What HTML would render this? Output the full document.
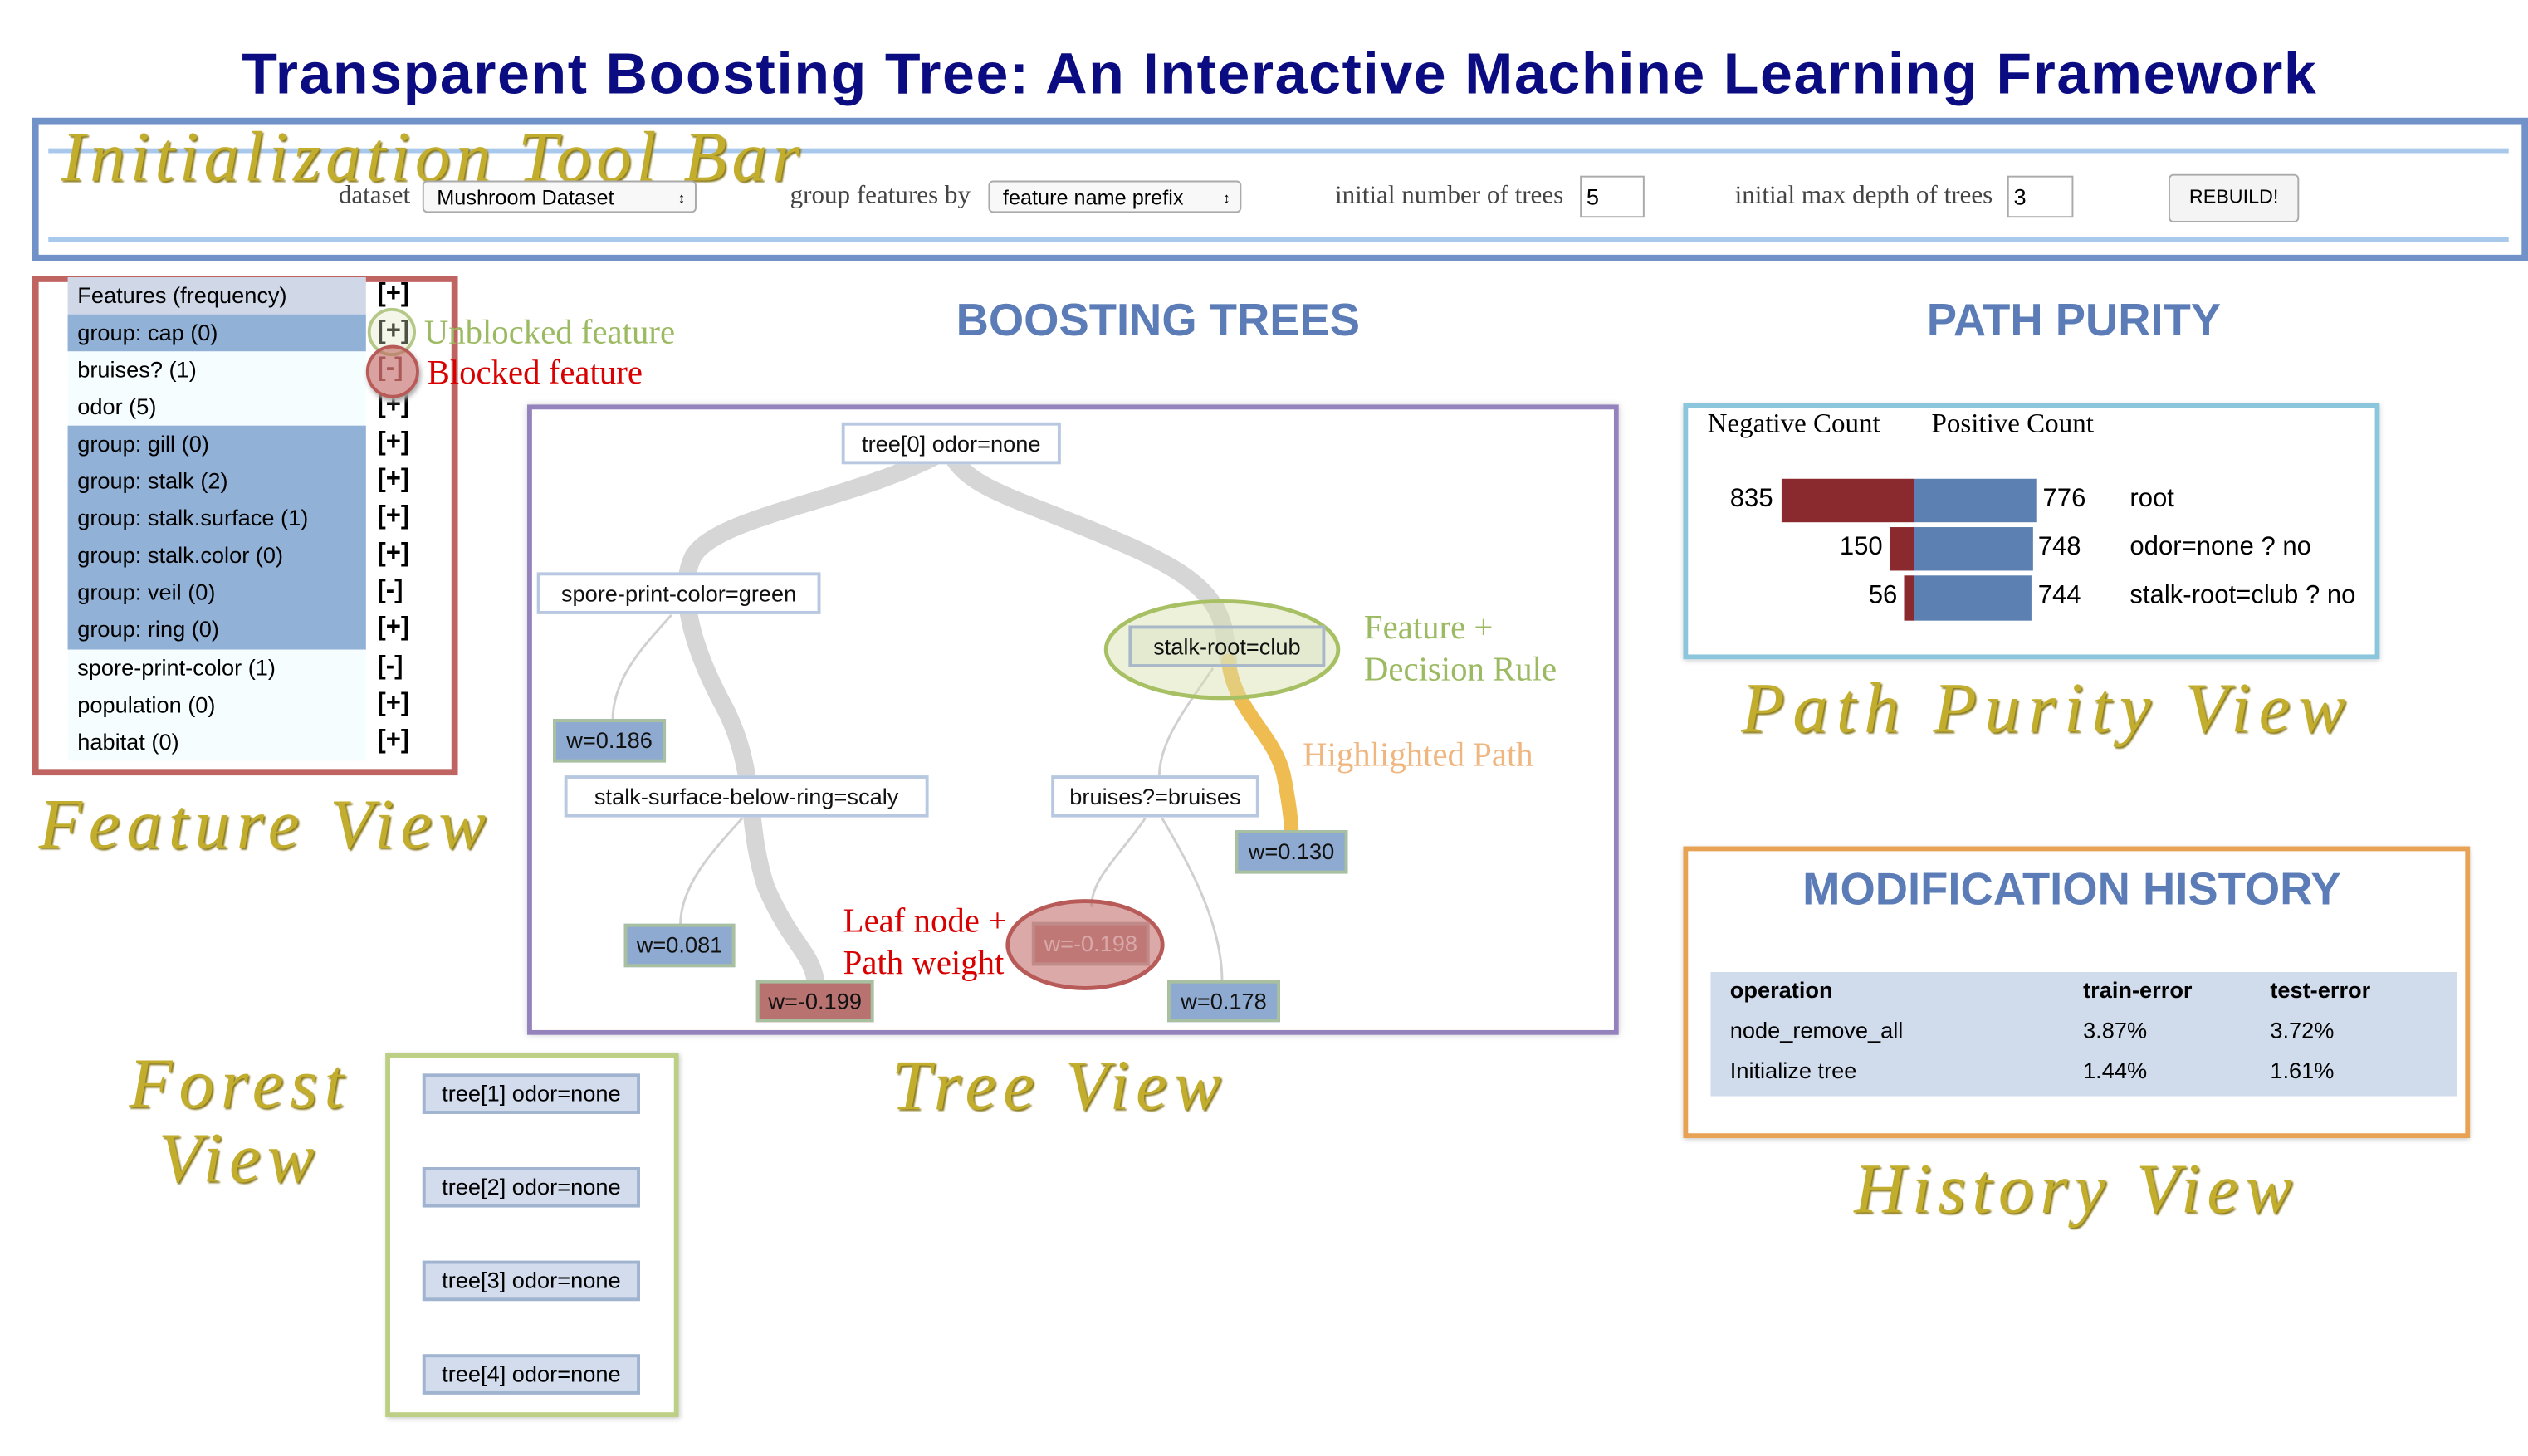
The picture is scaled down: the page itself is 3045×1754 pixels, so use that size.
<!DOCTYPE html>
<html><head><meta charset="utf-8">
<style>
html,body{margin:0;padding:0;background:#fff;overflow:hidden;}
#w{position:absolute;left:0;top:0;width:1568px;height:903px;transform:scale(1.942);transform-origin:0 0;font-family:"Liberation Sans",sans-serif;}
.a{position:absolute;white-space:nowrap;}
.scr{position:absolute;white-space:nowrap;font-family:"Liberation Serif",serif;font-style:italic;color:#c2ad2c;text-shadow:1px 1px 1px #8a7a20;letter-spacing:4px;}
.ser{font-family:"Liberation Serif",serif;}
.node{position:absolute;border:2px solid #b8c8e0;background:#fff;font-size:14px;text-align:center;box-sizing:border-box;line-height:22px;color:#111;}
.leaf{position:absolute;border:2px solid #a8c0a0;background:#8eaad0;font-size:14px;text-align:center;box-sizing:border-box;line-height:23px;color:#111;}
.row{position:absolute;left:42px;width:185px;height:23px;font-size:14px;line-height:23px;padding-left:6px;box-sizing:border-box;}
.br{position:absolute;left:234px;font-size:16px;font-weight:bold;}
.fb{position:absolute;left:262px;width:135px;height:25px;background:#d2dcec;border:2px solid #a0b4d0;box-sizing:border-box;font-size:14px;text-align:center;line-height:21px;}
.h{position:absolute;font-weight:bold;color:#5b7cb6;font-size:28px;}
</style></head><body><div id="w">

<div class="a" style="left:150px;top:25px;font-size:36px;font-weight:bold;color:#0c0c82;letter-spacing:0.8px;">Transparent Boosting Tree: An Interactive Machine Learning Framework</div>

<!-- toolbar -->
<div class="a" style="left:20px;top:73px;width:1548px;height:89px;border:4px solid #7092c8;box-sizing:border-box;"></div>
<div class="a" style="left:30px;top:92px;width:1526px;height:3px;background:#a8c8ec;"></div>
<div class="a" style="left:30px;top:147px;width:1526px;height:3px;background:#a8c8ec;"></div>
<div class="scr" style="left:38px;top:72px;font-size:44px;letter-spacing:3px;">Initialization Tool Bar</div>
<div class="a ser" style="left:210px;top:113px;font-size:16px;color:#444;">dataset</div>
<div class="a" style="left:262px;top:112px;width:170px;height:20px;border:1px solid #aaa;border-radius:3px;font-size:13px;line-height:20px;padding-left:8px;box-sizing:border-box;background:#f8f8f8;">Mushroom Dataset<span style="position:absolute;right:6px;font-size:9px;">&#x2195;</span></div>
<div class="a ser" style="left:490px;top:113px;font-size:16px;color:#444;">group features by</div>
<div class="a" style="left:613px;top:112px;width:157px;height:20px;border:1px solid #aaa;border-radius:3px;font-size:13px;line-height:20px;padding-left:8px;box-sizing:border-box;background:#f8f8f8;">feature name prefix<span style="position:absolute;right:6px;font-size:9px;">&#x2195;</span></div>
<div class="a ser" style="left:828px;top:113px;font-size:16px;color:#444;">initial number of trees</div>
<div class="a" style="left:980px;top:109px;width:40px;height:26px;border:1px solid #aaa;font-size:14px;line-height:24px;padding-left:3px;box-sizing:border-box;">5</div>
<div class="a ser" style="left:1076px;top:113px;font-size:16px;color:#444;">initial max depth of trees</div>
<div class="a" style="left:1245px;top:109px;width:41px;height:26px;border:1px solid #aaa;font-size:14px;line-height:24px;padding-left:3px;box-sizing:border-box;">3</div>
<div class="a" style="left:1345px;top:108px;width:79px;height:28px;border:1px solid #aaa;border-radius:3px;background:#f4f4f4;font-size:12px;text-align:center;line-height:26px;">REBUILD!</div>

<!-- feature view -->
<div class="a" style="left:20px;top:171px;width:264px;height:310px;border:4px solid #c06462;box-sizing:border-box;"></div>
<div class="row" style="top:172px;background:#d0d8e8;">Features (frequency)</div>
<div class="row" style="top:195px;background:#92b1d7;">group: cap (0)</div>
<div class="row" style="top:218px;background:#f6fdff;">bruises? (1)</div>
<div class="row" style="top:241px;background:#f6fdff;">odor (5)</div>
<div class="row" style="top:264px;background:#92b1d7;height:139px;"></div>
<div class="row" style="top:264px;">group: gill (0)</div>
<div class="row" style="top:287px;">group: stalk (2)</div>
<div class="row" style="top:310px;">group: stalk.surface (1)</div>
<div class="row" style="top:333px;">group: stalk.color (0)</div>
<div class="row" style="top:356px;">group: veil (0)</div>
<div class="row" style="top:379px;">group: ring (0)</div>
<div class="row" style="top:403px;background:#f6fdff;height:69px;"></div>
<div class="row" style="top:403px;">spore-print-color (1)</div>
<div class="row" style="top:426px;">population (0)</div>
<div class="row" style="top:449px;">habitat (0)</div>
<div class="br" style="top:174px;">[+]</div>
<div class="br" style="top:197px;">[+]</div>
<div class="br" style="top:220px;color:#8a4a4a;">[-]</div>
<div class="br" style="top:243px;">[+]</div>
<div class="br" style="top:266px;">[+]</div>
<div class="br" style="top:289px;">[+]</div>
<div class="br" style="top:312px;">[+]</div>
<div class="br" style="top:335px;">[+]</div>
<div class="br" style="top:358px;">[-]</div>
<div class="br" style="top:381px;">[+]</div>
<div class="br" style="top:405px;">[-]</div>
<div class="br" style="top:428px;">[+]</div>
<div class="br" style="top:451px;">[+]</div>
<div class="a" style="left:228px;top:191px;width:30px;height:30px;border-radius:50%;border:2px solid #b4c888;background:rgba(220,230,190,0.35);box-sizing:border-box;"></div>
<div class="a" style="left:227px;top:214px;width:33px;height:33px;border-radius:50%;border:2px solid #b85a58;background:rgba(192,100,96,0.6);box-sizing:border-box;box-shadow:1px 2px 3px #aaa;"></div>
<div class="a ser" style="left:263px;top:194px;font-size:21px;color:#9cba62;">Unblocked feature</div>
<div class="a ser" style="left:265px;top:219px;font-size:21px;color:#d80000;">Blocked feature</div>
<div class="scr" style="left:24px;top:486px;font-size:44px;">Feature View</div>

<!-- headings -->
<div class="h" style="left:593px;top:183px;">BOOSTING TREES</div>
<div class="h" style="left:1195px;top:183px;">PATH PURITY</div>

<!-- tree view -->
<div class="a" style="left:327px;top:251px;width:677px;height:391px;border:3px solid #9482bc;box-sizing:border-box;box-shadow:0 0 4px #ccc;"></div>
<svg class="a" style="left:0;top:0;" width="1568" height="903">
<g fill="none" stroke-linecap="round">
<path d="M582 282 C530 310,445 320,430 345 C420 365,428 400,450 440 C470 480,462 510,475 550 C490 585,503 590,506 609" stroke="#d6d6d6" stroke-width="11"/>
<path d="M590 282 C600 300,620 306,660 322 C720 346,752 360,759 390 L762 410" stroke="#d6d6d6" stroke-width="11"/>
<path d="M762 410 C765 440,790 455,796 480 C800 500,801 510,801 517" stroke="#efbc52" stroke-width="9"/>
<path d="M416 382 C400 400,380 420,380 447" stroke="#d0d0d0" stroke-width="1.5"/>
<path d="M460 508 C440 530,422 550,422 574" stroke="#d0d0d0" stroke-width="1.5"/>
<path d="M752 415 C735 440,719 460,719 482" stroke="#d0d0d0" stroke-width="1.5"/>
<path d="M710 508 C695 530,677 545,677 562" stroke="#d0d0d0" stroke-width="1.5"/>
<path d="M721 508 C740 540,758 575,758 609" stroke="#d0d0d0" stroke-width="1.5"/>
</g>
<ellipse cx="758" cy="403" rx="72" ry="30" fill="rgba(215,225,170,0.45)" stroke="#a8c064" stroke-width="2.5"/>
<ellipse cx="673" cy="586" rx="48" ry="27" fill="rgba(190,100,96,0.55)" stroke="#b85a58" stroke-width="2.5"/>
</svg>
<div class="node" style="left:522px;top:262px;width:136px;height:26px;">tree[0] odor=none</div>
<div class="node" style="left:333px;top:355px;width:176px;height:26px;">spore-print-color=green</div>
<div class="node" style="left:700px;top:388px;width:122px;height:26px;background:rgba(220,228,200,0.5);border-color:#a8b8c8;">stalk-root=club</div>
<div class="leaf" style="left:343px;top:446px;width:70px;height:27px;">w=0.186</div>
<div class="node" style="left:350px;top:481px;width:226px;height:26px;">stalk-surface-below-ring=scaly</div>
<div class="node" style="left:652px;top:481px;width:129px;height:26px;">bruises?=bruises</div>
<div class="leaf" style="left:766px;top:515px;width:70px;height:27px;">w=0.130</div>
<div class="leaf" style="left:387px;top:573px;width:69px;height:27px;">w=0.081</div>
<div class="leaf" style="left:469px;top:608px;width:73px;height:26px;background:#b87270;">w=-0.199</div>
<div class="leaf" style="left:640px;top:572px;width:73px;height:27px;background:#c07876;border-color:#c08a88;color:#d8a8a8;">w=-0.198</div>
<div class="leaf" style="left:724px;top:608px;width:70px;height:26px;">w=0.178</div>
<div class="a ser" style="left:846px;top:376px;font-size:21px;color:#9cba62;line-height:26px;">Feature +<br>Decision Rule</div>
<div class="a ser" style="left:808px;top:456px;font-size:21px;color:#f0b680;">Highlighted Path</div>
<div class="a ser" style="left:523px;top:558px;font-size:21px;color:#d80000;line-height:26px;">Leaf node +<br>Path weight</div>
<div class="scr" style="left:553px;top:648px;font-size:44px;">Tree View</div>

<!-- forest -->
<div class="a" style="left:239px;top:653px;width:182px;height:226px;border:3px solid #bccf84;box-sizing:border-box;box-shadow:1px 1px 3px #ccc;"></div>
<div class="fb" style="top:666px;">tree[1] odor=none</div>
<div class="fb" style="top:724px;">tree[2] odor=none</div>
<div class="fb" style="top:782px;">tree[3] odor=none</div>
<div class="fb" style="top:840px;">tree[4] odor=none</div>
<div class="scr" style="left:80px;top:650px;font-size:44px;line-height:46px;text-align:center;">Forest<br>View</div>

<!-- path purity -->
<div class="a" style="left:1044px;top:250px;width:432px;height:159px;border:3px solid #8cc6dc;box-sizing:border-box;box-shadow:0 1px 3px #ccc;"></div>
<div class="a ser" style="left:1059px;top:253px;font-size:17px;">Negative Count</div>
<div class="a ser" style="left:1198px;top:253px;font-size:17px;">Positive Count</div>
<div class="a" style="left:1105px;top:297px;width:82px;height:27px;background:#8b2a2e;"></div>
<div class="a" style="left:1187px;top:297px;width:76px;height:27px;background:#5b80b1;"></div>
<div class="a" style="left:1172px;top:327px;width:15px;height:27px;background:#8b2a2e;"></div>
<div class="a" style="left:1187px;top:327px;width:74px;height:27px;background:#5b80b1;"></div>
<div class="a" style="left:1181px;top:357px;width:6px;height:28px;background:#8b2a2e;"></div>
<div class="a" style="left:1187px;top:357px;width:73px;height:28px;background:#5b80b1;"></div>
<div class="a" style="left:1073px;top:301px;font-size:16px;">835</div>
<div class="a" style="left:1141px;top:331px;font-size:16px;">150</div>
<div class="a" style="left:1159px;top:361px;font-size:16px;">56</div>
<div class="a" style="left:1267px;top:301px;font-size:16px;">776</div>
<div class="a" style="left:1264px;top:331px;font-size:16px;">748</div>
<div class="a" style="left:1264px;top:361px;font-size:16px;">744</div>
<div class="a" style="left:1321px;top:301px;font-size:16px;">root</div>
<div class="a" style="left:1321px;top:331px;font-size:16px;">odor=none ? no</div>
<div class="a" style="left:1321px;top:361px;font-size:16px;">stalk-root=club ? no</div>
<div class="scr" style="left:1080px;top:414px;font-size:44px;letter-spacing:5px;">Path Purity View</div>

<!-- history -->
<div class="a" style="left:1044px;top:525px;width:488px;height:181px;border:3px solid #e8a254;box-sizing:border-box;box-shadow:0 1px 3px #ccc;"></div>
<div class="h" style="left:1118px;top:536px;">MODIFICATION HISTORY</div>
<div class="a" style="left:1061px;top:603px;width:463px;height:77px;background:#d0dbeb;"></div>
<div class="a" style="left:1073px;top:606px;font-size:14px;font-weight:bold;">operation</div>
<div class="a" style="left:1292px;top:606px;font-size:14px;font-weight:bold;">train-error</div>
<div class="a" style="left:1408px;top:606px;font-size:14px;font-weight:bold;">test-error</div>
<div class="a" style="left:1073px;top:631px;font-size:14px;">node_remove_all</div>
<div class="a" style="left:1292px;top:631px;font-size:14px;">3.87%</div>
<div class="a" style="left:1408px;top:631px;font-size:14px;">3.72%</div>
<div class="a" style="left:1073px;top:656px;font-size:14px;">Initialize tree</div>
<div class="a" style="left:1292px;top:656px;font-size:14px;">1.44%</div>
<div class="a" style="left:1408px;top:656px;font-size:14px;">1.61%</div>
<div class="scr" style="left:1150px;top:712px;font-size:44px;">History View</div>

</div></body></html>
